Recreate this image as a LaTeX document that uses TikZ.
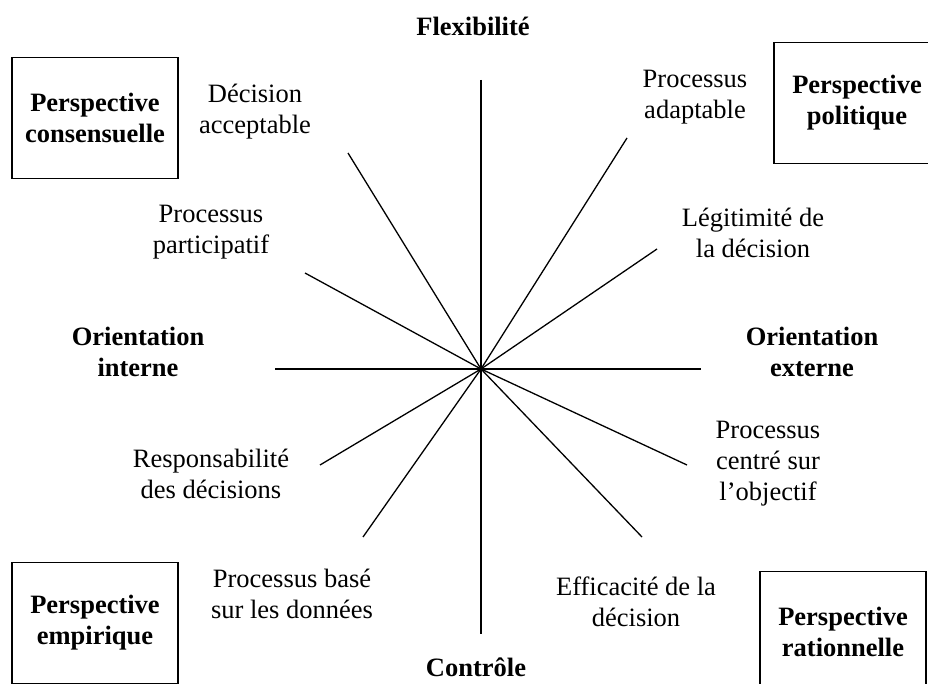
\documentclass[tikz,border=0pt]{standalone}
\usepackage{fontspec}
\setmainfont{Liberation Serif}
\begin{document}
\begin{tikzpicture}[x=1pt,y=-1pt,
  lbl/.style={font=\fontsize{26.5}{31}\selectfont, align=center, inner sep=0pt},
  hdr/.style={font=\fontsize{26.5}{31}\selectfont\bfseries, align=center, inner sep=0pt},
  pbox/.style={hdr, draw, line width=1.4pt, minimum width=166pt, minimum height=121pt},
  spoke/.style={line width=1.3pt}]
\useasboundingbox (0,0) rectangle (928,684);
% centre and spoke ends
\coordinate (c) at (481,369);
\coordinate (n) at (481,80);
\coordinate (s) at (481,634);
\coordinate (w) at (275,369);
\coordinate (e) at (701,369);
\coordinate (a1) at (348,153);
\coordinate (a2) at (305,273);
\coordinate (a3) at (627,138);
\coordinate (a4) at (657,249);
\coordinate (a5) at (320,465);
\coordinate (a6) at (363,537);
\coordinate (a7) at (687,465);
\coordinate (a8) at (642,537);
\draw[spoke] (n) -- (s);
\draw[spoke] (w) -- (e);
\foreach \p in {a1,a2,a3,a4,a5,a6,a7,a8} \draw[spoke] (c) -- (\p);
% axis labels
\node[hdr] (flex) at (473,26) {Flexibilité};
\node[hdr] (ctrl) at (476,667) {Contrôle};
\node[hdr] (oint) at (138,352) {Orientation\\interne};
\node[hdr] (oext) at (812,352) {Orientation\\externe};
% perspective boxes
\node[pbox] (pcons) at (95,118) {Perspective\\consensuelle};
\node[pbox] (ppol) at (857,103) {Perspective\\politique};
\node[pbox] (pemp) at (95,623) {Perspective\\empirique};
\node[pbox] (prat) at (843,632) {Perspective\\rationnelle};
% spoke labels
\node[lbl] (l1) at (255,112) {Décision\\acceptable};
\node[lbl] (l2) at (211,232) {Processus\\participatif};
\node[lbl] (l3) at (695,97) {Processus\\adaptable};
\node[lbl] (l4) at (753,233) {Légitimité de\\la décision};
\node[lbl] (l5) at (211,474) {Responsabilité\\des décisions};
\node[lbl] (l6) at (292,594) {Processus basé\\sur les données};
\node[lbl] (l7) at (768,464) {Processus\\centré sur\\l’objectif};
\node[lbl] (l8) at (636,602) {Efficacité de la\\décision};
\end{tikzpicture}
\end{document}
